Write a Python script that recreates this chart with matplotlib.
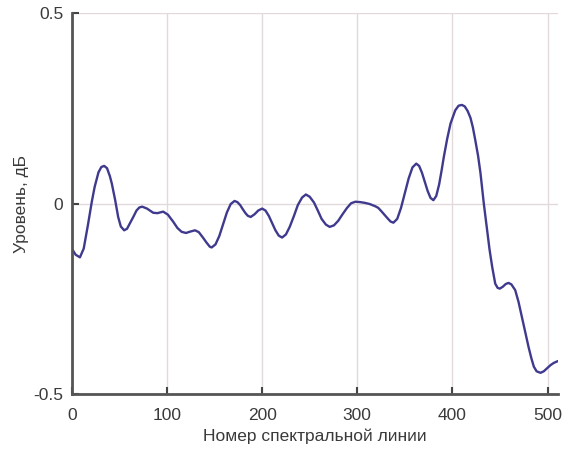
#!/usr/bin/env python3
import matplotlib
matplotlib.use("Agg")
import matplotlib.pyplot as plt

# spectral line number and level (dB)
line_no = [0, 4, 8.5, 12.5, 17, 21, 24, 28, 31, 34,
           37, 40, 42, 45.5, 48.7, 51.5, 55,
           58, 61, 64.6, 68, 71, 74,
           79, 85.6, 90, 96,
           101, 106.7, 111, 115.4, 120, 125, 129.5,
           133.5, 137.5, 141.5, 145, 147,
           151, 155, 159, 163, 167, 171,
           174, 177, 179.5, 182.5, 185, 188,
           192, 196, 200,
           203.5, 207, 210.5, 214, 217.5, 221,
           225, 229, 233.5, 237.5, 242, 246,
           250, 254.5, 258.5, 262.5, 267, 271,
           275.5, 280, 284.5, 289, 293.5, 298,
           303, 308, 313, 319,
           322, 325, 328.5, 332, 335, 338,
           342, 346, 350, 354, 358, 362,
           365, 368, 371, 374, 377, 380,
           383, 386, 388.5, 391, 394.5, 398, 403, 406.5, 410,
           413, 416, 419, 421.5, 424, 427, 429.5, 433, 436.5, 439, 441.8, 445, 447.5, 449.8,
           453, 456, 459,
           462, 466, 469.5, 473, 476.5, 480, 483, 485.6, 488.5, 492.6,
           496, 499.5, 503, 506.5, 511]
level_db = [-0.118, -0.134, -0.141, -0.118, -0.055, 0.005, 0.044, 0.082, 0.096, 0.099,
            0.093, 0.072, 0.053, 0.010, -0.035, -0.060, -0.070,
            -0.066, -0.052, -0.035, -0.018, -0.010, -0.008,
            -0.013, -0.024, -0.025, -0.021,
            -0.029, -0.048, -0.064, -0.074, -0.077, -0.073, -0.070,
            -0.075, -0.088, -0.102, -0.113, -0.115,
            -0.107, -0.085, -0.054, -0.023, -0.001, 0.007,
            0.004, -0.004, -0.014, -0.025, -0.032, -0.035,
            -0.028, -0.018, -0.013,
            -0.018, -0.032, -0.051, -0.070, -0.084, -0.089,
            -0.081, -0.061, -0.032, -0.004, 0.016, 0.024,
            0.018, 0.003, -0.018, -0.040, -0.055, -0.061,
            -0.057, -0.045, -0.028, -0.012, 0.001, 0.005,
            0.004, 0.002, -0.001, -0.007,
            -0.011, -0.019, -0.029, -0.039, -0.047, -0.050,
            -0.040, -0.011, 0.028, 0.066, 0.095, 0.105,
            0.099, 0.081, 0.057, 0.033, 0.015, 0.009,
            0.020, 0.050, 0.085, 0.123, 0.170, 0.210, 0.245, 0.257, 0.259,
            0.255, 0.243, 0.225, 0.200, 0.167, 0.125, 0.080, 0.000, -0.070, -0.120, -0.166, -0.210, -0.221, -0.223,
            -0.218, -0.211, -0.208,
            -0.212, -0.227, -0.258, -0.297, -0.337, -0.376, -0.406, -0.428, -0.440, -0.444,
            -0.440, -0.432, -0.424, -0.418, -0.413]

x_ticks = [0, 100, 200, 300, 400, 500]
y_ticks = [-0.5, 0, 0.5]
y_tick_labels = ["-0.5", "0", "0.5"]

plt.rcParams['font.family'] = ['Liberation Sans', 'DejaVu Sans']

fig = plt.figure(figsize=(5.7, 4.51), dpi=100)
ax = fig.add_axes([0.126, 0.126, 0.853, 0.845])

ax.plot(line_no, level_db, color='#3f3a8e', linewidth=1.7,
        solid_capstyle='round', solid_joinstyle='round')

ax.set_xlim(0, 511)
ax.set_ylim(-0.5, 0.5)
ax.set_xticks(x_ticks)
ax.set_yticks(y_ticks)
ax.set_yticklabels(y_tick_labels)
ax.grid(True, color='#e2dada', linewidth=1.0)
ax.set_axisbelow(True)

for side in ('top', 'right'):
    ax.spines[side].set_visible(False)
for side in ('left', 'bottom'):
    ax.spines[side].set_color('#555555')
    ax.spines[side].set_linewidth(2.0)

ax.tick_params(direction='in', length=5, width=1.5, color='#444444',
               labelsize=12.5, labelcolor='#3a3a3a')
ax.tick_params(axis='x', pad=10)
ax.tick_params(axis='y', pad=6)

ax.set_xlabel("Номер спектральной линии", fontsize=12.5, color='#3a3a3a', labelpad=4)
ax.set_ylabel("Уровень, дБ", fontsize=12.5, color='#3a3a3a', labelpad=3)

fig.savefig("out.png", dpi=100)
